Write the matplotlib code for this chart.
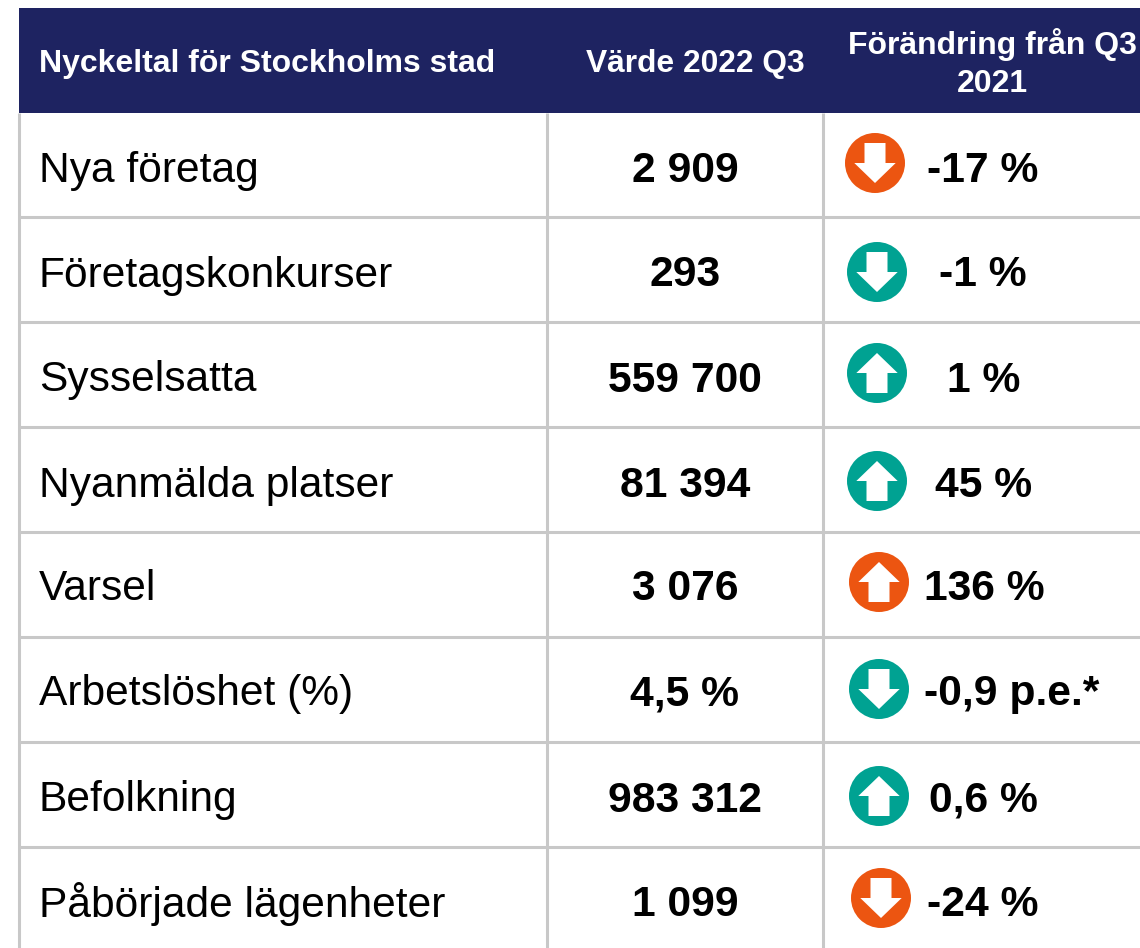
import matplotlib
matplotlib.use('Agg')
import matplotlib.pyplot as plt
from matplotlib.patches import Circle, Polygon, Rectangle

plt.rcParams['font.family'] = ['Liberation Sans', 'DejaVu Sans']

headers = ['Nyckeltal för Stockholms stad', 'Värde 2022 Q3', 'Förändring från Q3\n2021']
labels = ['Nya företag', 'Företagskonkurser', 'Sysselsatta', 'Nyanmälda platser',
          'Varsel', 'Arbetslöshet (%)', 'Befolkning', 'Påbörjade lägenheter']
values = ['2 909', '293', '559 700', '81 394', '3 076', '4,5 %', '983 312', '1 099']
changes = ['-17 %', '-1 %', '1 %', '45 %', '136 %', '-0,9 p.e.*', '0,6 %', '-24 %']
directions = ['down', 'down', 'up', 'up', 'up', 'down', 'up', 'down']
moods = ['bad', 'good', 'good', 'good', 'bad', 'good', 'good', 'bad']

mood_colors = {'bad': '#EC5511', 'good': '#00A292'}
navy = '#1E2361'
grid = '#C8C8C8'

# layout in pixels, the icons and change texts are not aligned in the original
row_lines = [113, 217, 322, 427, 532, 637, 742, 847]
text_y = [166, 271, 376, 481, 585, 690, 796, 900]
icon_x = [875, 877, 877, 877, 879, 879, 879, 881]
icon_y = [163, 272, 373, 481, 582, 689, 796, 898]
change_x = [983, 983, 984, 984, 984, 1012, 983, 983]
col_lines = [19, 547, 823]

fig = plt.figure(figsize=(11.4, 9.48), dpi=100)
ax = fig.add_axes([0, 0, 1, 1])
ax.set_xlim(0, 1140)
ax.set_ylim(948, 0)
ax.axis('off')


def draw_icon(x, y, direction, color):
    ax.add_patch(Circle((x, y), 30, facecolor=color, edgecolor='none', zorder=3))
    s = 1 if direction == 'down' else -1
    pts = [(-10.5, -20), (10.5, -20), (10.5, 0), (20.7, 0), (0, 20), (-20.7, 0), (-10.5, 0)]
    pts = [(x + a, y + s * b) for a, b in pts]
    ax.add_patch(Polygon(pts, closed=True, facecolor='white', edgecolor='none', zorder=4))


for y in row_lines[1:]:
    ax.plot([19, 1140], [y, y], color=grid, lw=2.2, solid_capstyle='butt', zorder=1)
for x in col_lines:
    ax.plot([x, x], [113, 948], color=grid, lw=2.2, solid_capstyle='butt', zorder=1)

ax.add_patch(Rectangle((19, 8), 1121, 105, facecolor=navy, edgecolor='none', zorder=2))
ax.text(39, 64, headers[0], color='white', fontsize=23, fontweight='bold', ha='left', va='center', zorder=3)
ax.text(695, 64, headers[1], color='white', fontsize=22.9, fontweight='bold', ha='center', va='center', zorder=3)
ax.text(992, 63.5, headers[2], color='white', fontsize=23, fontweight='bold', ha='center', va='center',
        linespacing=1.36, zorder=3)

for i in range(len(labels)):
    ax.text(39, text_y[i], labels[i], fontsize=30.6, color='black', ha='left', va='center_baseline')
    ax.text(685, text_y[i], values[i], fontsize=30.7, fontweight='bold', color='black', ha='center', va='center_baseline')
    ax.text(change_x[i], text_y[i], changes[i], fontsize=30.7, fontweight='bold', color='black', ha='center', va='center_baseline')
    draw_icon(icon_x[i], icon_y[i], directions[i], mood_colors[moods[i]])

fig.savefig('out.png', dpi=100, facecolor='white')
